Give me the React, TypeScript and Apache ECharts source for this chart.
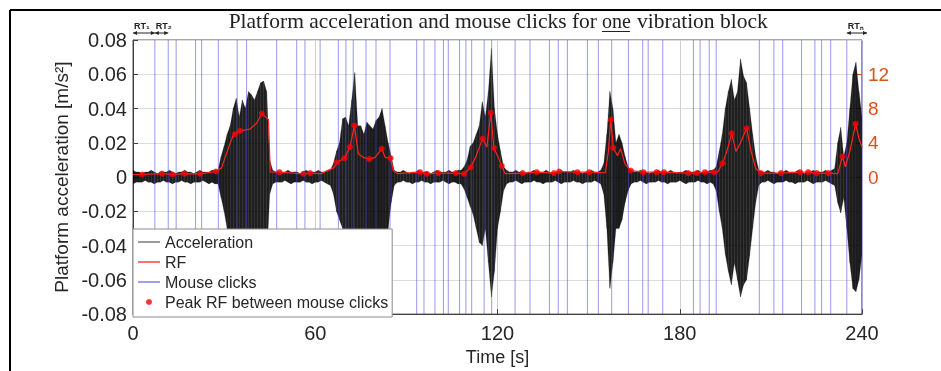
import React, { useEffect, useRef } from "react";
import * as echarts from "echarts";

// ---- data ----
const xTicks = [0, 60, 120, 180, 240];
const yMinAcc = -0.08;
const yMaxAcc = 0.08;
const rfTicks = [0, 4, 8, 12];

// mouse click times [s]
const clickTimes = [
  7.2, 11.6, 14.2, 20.6, 22.6, 28.1, 34.3, 37.4, 47.3, 53.9, 56.6, 61.6, 67.6, 70.1, 72.5, 76.7, 80.0,
  84.6, 93.4, 95.8, 99.4, 102.2, 103.8, 107.5, 109.6, 111.5, 115.6, 118.1, 125.8, 130.7, 137.1, 140.0,
  143.0, 149.6, 153.2, 157.6, 163.1, 167.8, 169.6, 174.4, 184.5, 186.7, 189.7, 192.0, 206.2, 211.0,
  213.9, 220.1, 224.5, 226.7, 229.7, 235.0, 240.0,
];

// acceleration envelope, one value per second (t = 0..240) [m/s^2]
const accUpper = [
  0.004, 0.003, 0.003, 0.002, 0.003, 0.003, 0.004, 0.003, 0.002, 0.003, 0.003, 0.003, 0.004, 0.003, 0.002, 0.003, 0.003, 0.004, 0.003, 0.003, 0.002, 0.003, 0.004, 0.003, 0.003, 0.003, 0.004, 0.004,
  0.004, 0.012, 0.018, 0.025, 0.03, 0.04, 0.046, 0.035, 0.045, 0.04, 0.05, 0.048, 0.045, 0.05, 0.055, 0.056, 0.05, 0.01, 0.004,
  0.003, 0.003, 0.002, 0.003, 0.004, 0.003, 0.003, 0.003, 0.002, 0.003, 0.004, 0.003, 0.003, 0.003, 0.004, 0.003, 0.003, 0.004,
  0.004, 0.008, 0.015, 0.02, 0.034, 0.035, 0.03, 0.045, 0.061, 0.03, 0.03, 0.025, 0.032, 0.03, 0.028, 0.033, 0.035, 0.04, 0.03, 0.02, 0.012, 0.004,
  0.003, 0.003, 0.004, 0.003, 0.002, 0.003, 0.003, 0.004, 0.003, 0.003, 0.003, 0.002, 0.003, 0.004, 0.003, 0.003, 0.003, 0.004, 0.003, 0.003, 0.004,
  0.004, 0.006, 0.01, 0.018, 0.02, 0.025, 0.03, 0.044, 0.035, 0.05, 0.075, 0.04, 0.025, 0.015, 0.006, 0.004,
  0.003, 0.003, 0.004, 0.003, 0.003, 0.002, 0.003, 0.003, 0.004, 0.003, 0.003, 0.003, 0.004, 0.003, 0.002, 0.003, 0.003, 0.004, 0.003, 0.003, 0.003, 0.004, 0.003, 0.003, 0.002, 0.003, 0.003, 0.004, 0.003, 0.003,
  0.004, 0.008, 0.025, 0.05, 0.04, 0.02, 0.025, 0.02, 0.012, 0.006, 0.004,
  0.003, 0.003, 0.004, 0.003, 0.003, 0.002, 0.003, 0.003, 0.004, 0.003, 0.003, 0.003, 0.004, 0.003, 0.002, 0.003, 0.003, 0.004, 0.003, 0.003, 0.003, 0.004, 0.003, 0.003, 0.003, 0.004,
  0.004, 0.006, 0.015, 0.025, 0.04, 0.05, 0.057, 0.045, 0.05, 0.069, 0.059, 0.055, 0.04, 0.025, 0.012, 0.004,
  0.003, 0.003, 0.004, 0.003, 0.003, 0.002, 0.003, 0.003, 0.004, 0.003, 0.003, 0.003, 0.004, 0.003, 0.002, 0.003, 0.003, 0.004, 0.003, 0.003, 0.003, 0.004, 0.003, 0.004,
  0.005, 0.02, 0.029, 0.012, 0.02, 0.04, 0.06, 0.067, 0.05, 0.035,
];
const accLower = [
  -0.004, -0.003, -0.003, -0.003, -0.002, -0.003, -0.003, -0.004, -0.003, -0.003, -0.002, -0.003, -0.003, -0.004, -0.003, -0.003, -0.002, -0.003, -0.003, -0.004, -0.003, -0.003, -0.003, -0.002, -0.003, -0.004, -0.003, -0.004,
  -0.004, -0.012, -0.02, -0.03, -0.035, -0.04, -0.045, -0.045, -0.05, -0.05, -0.05, -0.05, -0.05, -0.055, -0.055, -0.055, -0.05, -0.01, -0.004,
  -0.003, -0.003, -0.003, -0.002, -0.003, -0.004, -0.003, -0.003, -0.003, -0.002, -0.003, -0.003, -0.004, -0.003, -0.003, -0.002, -0.003, -0.004,
  -0.005, -0.01, -0.02, -0.025, -0.03, -0.04, -0.045, -0.05, -0.055, -0.045, -0.04, -0.035, -0.04, -0.04, -0.035, -0.04, -0.045, -0.045, -0.04, -0.03, -0.015, -0.005,
  -0.003, -0.003, -0.002, -0.003, -0.003, -0.004, -0.003, -0.003, -0.002, -0.003, -0.003, -0.004, -0.003, -0.003, -0.003, -0.002, -0.003, -0.004, -0.003, -0.003, -0.004,
  -0.004, -0.007, -0.012, -0.017, -0.022, -0.03, -0.038, -0.04, -0.03, -0.05, -0.07, -0.055, -0.03, -0.02, -0.008, -0.004,
  -0.003, -0.003, -0.002, -0.003, -0.004, -0.003, -0.003, -0.003, -0.002, -0.003, -0.003, -0.004, -0.003, -0.003, -0.003, -0.002, -0.003, -0.004, -0.003, -0.003, -0.003, -0.002, -0.003, -0.003, -0.004, -0.003, -0.003, -0.003, -0.002, -0.003,
  -0.004, -0.01, -0.03, -0.065, -0.05, -0.03, -0.03, -0.025, -0.015, -0.008, -0.004,
  -0.003, -0.003, -0.002, -0.003, -0.004, -0.003, -0.003, -0.003, -0.002, -0.003, -0.003, -0.004, -0.003, -0.003, -0.003, -0.002, -0.003, -0.004, -0.003, -0.003, -0.003, -0.002, -0.003, -0.003, -0.004, -0.003,
  -0.004, -0.008, -0.02, -0.03, -0.045, -0.055, -0.063, -0.05, -0.06, -0.07, -0.063, -0.06, -0.046, -0.03, -0.015, -0.005,
  -0.003, -0.003, -0.002, -0.003, -0.004, -0.003, -0.003, -0.003, -0.002, -0.003, -0.003, -0.004, -0.003, -0.003, -0.003, -0.002, -0.003, -0.004, -0.003, -0.003, -0.003, -0.002, -0.003, -0.004,
  -0.005, -0.015, -0.021, -0.012, -0.03, -0.05, -0.065, -0.067, -0.06, -0.045,
];

// RF (right axis)
const rfTime = [
  0, 3, 9.5, 13, 17, 22.1, 27.3, 29.2, 31, 33, 35.2, 38.5, 40.7, 42.4, 44.6, 45.2, 48.2, 56.1, 58.3, 62,
  66.2, 67.1, 69.6, 71.4, 72.9, 74.2, 75.8, 77.8, 79.7, 81.9, 83, 84.8, 85.7, 87, 94.5, 96.7, 100.5, 106.3,
  109, 111.2, 113, 115.1, 116.5, 117.8, 118.8, 120, 121.4, 122.5, 128.3, 132.9, 138.6, 140.3, 146.3, 150.2,
  155.5, 156.5, 157.3, 158.1, 159.5, 160.5, 162, 163.9, 168, 172.4, 174.8, 182.8, 185.6, 188.3, 191.3,
  192.5, 194.1, 195.5, 197.1, 198.5, 200, 202, 203.5, 205, 206.7, 213.3, 219.6, 222.3, 225.1, 228.9, 232,
  233.6, 234.5, 236, 237.9, 239, 240,
];
const rfValue = [
  0.3, 0.3, 0.4, 0.3, 0.4, 0.38, 0.65, 1.1, 3, 4.9, 5.4, 5.6, 6.3, 7.4, 6.7, 0.6, 0.57, 0.38, 0.46, 0.4,
  1.1, 1.7, 2.2, 3.5, 6.0, 2.7, 2.3, 2.1, 2.3, 3.3, 2.3, 2.2, 0.76, 0.4, 0.57, 0.38, 0.46, 0.46,
  0.38, 1.14, 2.5, 4.5, 3.5, 7.5, 3.4, 2.5, 1.3, 0.4, 0.46, 0.57, 0.46, 0.65, 0.57, 0.57,
  0.5, 3, 6.7, 3.4, 2.5, 3.3, 1.5, 0.76, 0.57, 0.57, 0.57, 0.46, 0.46, 0.57, 0.57,
  0.6, 1.6, 3, 5.1, 3, 4, 5.7, 3, 1, 0.46, 0.46, 0.57, 0.57, 0.46, 0.46, 0.4,
  2.4, 1.2, 3, 6.2, 4.5, 3.5,
];

// peak RF between mouse clicks
const peakTime = [
  3, 9.5, 13, 17, 22.1, 27.3, 33.6, 35.2, 42.4, 48.2, 56.1, 58.3, 67.1, 69.6, 71.4, 72.9, 77.8, 81.9, 84.8,
  94.5, 96.7, 100.5, 106.3, 109, 111.2, 115.1, 117.8, 118.8, 121.4, 128.3, 132.9, 138.6, 140.3, 146.3, 150.2,
  157.3, 158.1, 163.9, 168, 172.4, 174.8, 182.8, 185.6, 188.3, 191.3, 194.1, 197.1, 202, 206.7, 213.3, 219.6,
  222.3, 225.1, 228.9, 233.6, 237.9,
];
const peakValue = [
  0.3, 0.4, 0.3, 0.4, 0.38, 0.65, 5.0, 5.4, 7.4, 0.57, 0.38, 0.46, 1.7, 2.2, 3.5, 6.0, 2.1, 3.3, 2.2,
  0.57, 0.38, 0.46, 0.46, 0.38, 1.14, 4.5, 7.5, 3.4, 1.3, 0.46, 0.57, 0.46, 0.65, 0.57, 0.57,
  6.7, 3.4, 0.76, 0.57, 0.57, 0.57, 0.46, 0.46, 0.57, 0.57, 1.6, 5.1, 5.7, 0.46, 0.46, 0.57,
  0.57, 0.46, 0.46, 2.4, 6.2,
];

const SANS = "Liberation Sans, Arial, sans-serif";
const SERIF = "Liberation Serif, Times New Roman, serif";
const TXT = "#262626";
const ORANGE = "#D95319";
const BLUE = "rgba(70,70,215,0.55)";
const LINE_ICON = "path://M0,0H22V1.5H0Z";

export default function App() {
  const ref = useRef<HTMLDivElement>(null);
  useEffect(() => {
    const chart = echarts.init(ref.current!, undefined, { renderer: "svg" });

    const accData = accUpper.map((u, i) => [i, u, accLower[i]]);
    const clickData: any[] = [];
    clickTimes.forEach((t) => {
      clickData.push([t, yMinAcc]);
      clickData.push([t, yMaxAcc]);
      clickData.push([t, "-"]);
    });
    const rfData = rfTime.map((t, i) => [t, rfValue[i]]);
    const peakData = peakTime.map((t, i) => [t, peakValue[i]]);

    chart.setOption({
      animation: false,
      grid: { left: 133, right: 79, top: 40, bottom: 51, show: true, borderColor: "#555", borderWidth: 1 },
      legend: {
        orient: "vertical",
        left: 133,
        top: 229,
        padding: [5, 4, 7, 5],
        itemGap: 4,
        itemWidth: 22,
        itemHeight: 6,
        backgroundColor: "#fff",
        borderColor: "#8c8c8c",
        borderWidth: 1,
        borderRadius: 0,
        textStyle: { fontFamily: SANS, fontSize: 16, color: TXT, lineHeight: 16 },
        data: [
          { name: "Acceleration", icon: LINE_ICON, itemStyle: { color: "#7a7a7a" } },
          { name: "RF", icon: LINE_ICON, itemStyle: { color: "#ff4040" } },
          { name: "Mouse clicks", icon: LINE_ICON, itemStyle: { color: "#8080e8" } },
          { name: "Peak RF between mouse clicks", icon: "circle", itemStyle: { color: "#ff0000" } },
        ],
      },
      xAxis: {
        type: "value",
        min: 0,
        max: 240,
        interval: 60,
        name: "Time [s]",
        nameLocation: "middle",
        nameGap: 29,
        nameTextStyle: { fontFamily: SANS, fontSize: 18, color: TXT },
        axisLine: { show: true, onZero: false, lineStyle: { color: "#404040" } },
        axisTick: { show: true, inside: true, length: 5, lineStyle: { color: "#404040" } },
        axisLabel: { fontFamily: SANS, fontSize: 20, color: TXT, margin: 9, customValues: xTicks },
        splitLine: { show: true, lineStyle: { color: "#cfcfcf", width: 1 } },
      },
      yAxis: [
        {
          type: "value",
          min: yMinAcc,
          max: yMaxAcc,
          interval: 0.02,
          name: "Platform acceleration [m/s²]",
          nameLocation: "middle",
          nameGap: 50,
          nameTextStyle: { fontFamily: SANS, fontSize: 19, color: TXT },
          axisLine: { show: true, onZero: false, lineStyle: { color: "#404040" } },
          axisTick: { show: true, inside: true, length: 5, lineStyle: { color: "#404040" } },
          axisLabel: {
            fontFamily: SANS,
            fontSize: 20,
            color: TXT,
            margin: 6,
            formatter: (v: number) => (Math.abs(v) < 1e-9 ? "0" : v.toFixed(2)),
          },
          splitLine: { show: true, lineStyle: { color: "#dcdcdc", width: 1 } },
        },
        {
          type: "value",
          min: -16,
          max: 16,
          interval: 4,
          position: "right",
          axisLine: { show: false, onZero: false },
          axisTick: { show: true, inside: true, length: 5, customValues: rfTicks, lineStyle: { color: ORANGE } },
          axisLabel: { fontFamily: SANS, fontSize: 19, color: ORANGE, margin: 6, customValues: rfTicks },
          splitLine: { show: false },
        },
      ],
      series: [
        {
          name: "Acceleration",
          type: "custom",
          data: accData,
          encode: { x: 0, y: [1, 2] },
          clip: true,
          z: 2,
          renderItem: (params: any, api: any) => {
            const i = params.dataIndex;
            if (i >= accUpper.length - 1) return null;
            const t = api.value(0);
            const pts = [
              api.coord([t, accUpper[i]]),
              api.coord([t + 1, accUpper[i + 1]]),
              api.coord([t + 1, accLower[i + 1]]),
              api.coord([t, accLower[i]]),
            ];
            return {
              type: "polygon",
              shape: { points: pts },
              style: { fill: "rgba(0,0,0,0.88)", stroke: "rgba(0,0,0,0.5)", lineWidth: 0.4 },
            };
          },
        },
        {
          name: "Mouse clicks",
          type: "line",
          data: clickData,
          symbol: "none",
          connectNulls: false,
          lineStyle: { color: BLUE, width: 1 },
          z: 3,
        },
        {
          name: "RF",
          type: "line",
          yAxisIndex: 1,
          data: rfData,
          symbol: "none",
          lineStyle: { color: "#ff2020", width: 1.2 },
          z: 4,
        },
        {
          name: "Peak RF between mouse clicks",
          type: "scatter",
          yAxisIndex: 1,
          data: peakData,
          symbol: "circle",
          symbolSize: 6,
          itemStyle: { color: "#ff0000" },
          z: 5,
        },
      ],
    });

    const px = (t: number) => chart.convertToPixel({ xAxisIndex: 0 }, t) as number;
    const arrowY = 33;
    const arrow = (x1: number, x2: number, label: string) => [
      { type: "line", shape: { x1, y1: arrowY, x2, y2: arrowY }, style: { stroke: "#222", lineWidth: 1 } },
      { type: "polygon", shape: { points: [[x1, arrowY], [x1 + 4, arrowY - 2], [x1 + 4, arrowY + 2]] }, style: { fill: "#222" } },
      { type: "polygon", shape: { points: [[x2, arrowY], [x2 - 4, arrowY - 2], [x2 - 4, arrowY + 2]] }, style: { fill: "#222" } },
      {
        type: "text",
        x: x1 + 1,
        y: arrowY - 3,
        style: { text: label, fontFamily: SANS, fontSize: 9, fontWeight: "bold", fill: "#222", textAlign: "left", textVerticalAlign: "bottom" },
      },
    ];
    const last = clickTimes.length - 2; // click before the final one
    const graphics: any[] = [
      { type: "line", shape: { x1: 10, y1: 10, x2: 941, y2: 10 }, style: { stroke: "#000", lineWidth: 2 } },
      { type: "line", shape: { x1: 10, y1: 10, x2: 10, y2: 371 }, style: { stroke: "#000", lineWidth: 2 } },
      {
        type: "text",
        x: 597,
        y: 21,
        style: { text: "Platform acceleration and mouse clicks for", fontFamily: SERIF, fontSize: 21.5, fill: "#222", textAlign: "right", textVerticalAlign: "middle" },
      },
      {
        type: "text",
        x: 602,
        y: 21,
        style: { text: "one", fontFamily: SERIF, fontSize: 20, fill: "#222", textAlign: "left", textVerticalAlign: "middle" },
      },
      { type: "line", shape: { x1: 602, y1: 31.5, x2: 630, y2: 31.5 }, style: { stroke: "#222", lineWidth: 1 } },
      {
        type: "text",
        x: 637,
        y: 21,
        style: { text: "vibration block", fontFamily: SERIF, fontSize: 21.5, fill: "#222", textAlign: "left", textVerticalAlign: "middle" },
      },
      ...arrow(px(0), px(clickTimes[0]), "RT₁"),
      ...arrow(px(clickTimes[0]), px(clickTimes[1]), "RT₂"),
      ...arrow(px(clickTimes[last]), px(clickTimes[last + 1]) + 5, "RTₙ"),
    ];
    chart.setOption({ graphic: graphics });

    return () => chart.dispose();
  }, []);
  return <div ref={ref} style={{ position: "fixed", left: 0, top: 0, width: 941, height: 371 }} />;
}
